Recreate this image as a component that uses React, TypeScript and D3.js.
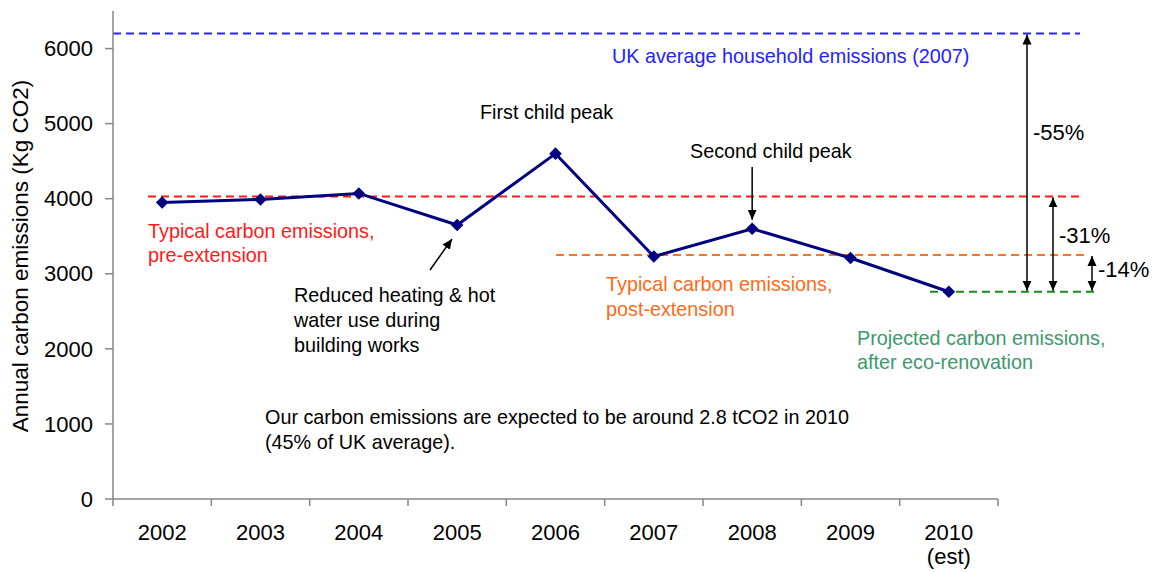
import React from 'react';
import * as d3 from 'd3';

// Chart data
const years = ['2002', '2003', '2004', '2005', '2006', '2007', '2008', '2009', '2010'];
const emissions = [3950, 3990, 4070, 3650, 4600, 3230, 3600, 3210, 2760];
const yTicks = [0, 1000, 2000, 3000, 4000, 5000, 6000];

// Reference levels (Kg CO2)
const ukAverage = 6200;
const preExtension = 4030;
const postExtension = 3250;
const ecoRenovation = 2760;

const W = 1154;
const H = 572;
const FONT = '"Liberation Sans", Arial, sans-serif';

const App = () => {
  const x = d3.scaleBand<string>().domain(years).range([113, 998]).padding(0);
  const y = d3.scaleLinear().domain([0, 6500]).range([499, 11]);
  const cx = (yr: string) => (x(yr) as number) + x.bandwidth() / 2;

  const line = d3
    .line<number>()
    .x((_, i) => cx(years[i]))
    .y((d) => y(d));

  const axisColor = '#868686';
  const diamond = 'M0,-6.3L6.3,0L0,6.3L-6.3,0Z';

  // vertical arrows for percent reductions
  const pctArrows = [
    { from: ukAverage, x: 1027, label: '-55%', lx: 1033, ly: 140 },
    { from: preExtension, x: 1053, label: '-31%', lx: 1059, ly: 243 },
    { from: postExtension, x: 1092, label: '-14%', lx: 1098, ly: 277 },
  ];

  const annot = { fontFamily: FONT, fontSize: 19.8 };

  return (
    <svg
      width={W}
      height={H}
      style={{ position: 'absolute', left: 0, top: 0, background: '#fff' }}
    >
      <defs>
        <marker id="ah" viewBox="0 0 10 10" refX="10" refY="5" markerWidth="10" markerHeight="10"
          markerUnits="userSpaceOnUse" orient="auto-start-reverse">
          <path d="M0,0.5L10,5L0,9.5Z" fill="#000" />
        </marker>
      </defs>

      {/* reference dashed levels */}
      <line x1={113} x2={1080} y1={y(ukAverage)} y2={y(ukAverage)} stroke="#2323ff" strokeWidth={2} strokeDasharray="8,5" />
      <line x1={148} x2={1080} y1={y(preExtension)} y2={y(preExtension)} stroke="#ff1a1a" strokeWidth={2} strokeDasharray="8,5" />
      <line x1={556} x2={1085} y1={y(postExtension)} y2={y(postExtension)} stroke="#ff7322" strokeWidth={2} strokeDasharray="8,5" />
      <line x1={930} x2={1095} y1={y(ecoRenovation)} y2={y(ecoRenovation)} stroke="#1a8c1a" strokeWidth={2} strokeDasharray="8,5" />

      {/* y axis */}
      <line x1={113} x2={113} y1={y(6500)} y2={y(0)} stroke={axisColor} strokeWidth={1.5} />
      {yTicks.map((t) => (
        <g key={t} transform={`translate(0,${y(t)})`}>
          <line x1={105} x2={113} stroke={axisColor} strokeWidth={1.5} />
          <text x={93} dy="0.35em" textAnchor="end" fontFamily={FONT} fontSize={22} fill="#000">
            {t}
          </text>
        </g>
      ))}
      <text
        transform={`translate(28,256) rotate(-90)`}
        textAnchor="middle"
        fontFamily={FONT}
        fontSize={22.5}
        fill="#000"
      >
        Annual carbon emissions (Kg CO2)
      </text>

      {/* x axis */}
      <line x1={113} x2={998} y1={y(0)} y2={y(0)} stroke={axisColor} strokeWidth={1.5} />
      {[...years.map((yr) => x(yr) as number), 998].map((px, i) => (
        <line key={i} x1={px} x2={px} y1={y(0)} y2={y(0) + 7} stroke={axisColor} strokeWidth={1.5} />
      ))}
      {years.map((yr) => (
        <text key={yr} x={cx(yr)} y={540} textAnchor="middle" fontFamily={FONT} fontSize={22} fill="#000">
          {yr}
        </text>
      ))}
      <text x={cx('2010')} y={564} textAnchor="middle" fontFamily={FONT} fontSize={22} fill="#000">
        (est)
      </text>

      {/* emissions series */}
      <path d={line(emissions) || ''} fill="none" stroke="#000080" strokeWidth={3} />
      {emissions.map((v, i) => (
        <path key={i} d={diamond} transform={`translate(${cx(years[i])},${y(v)})`} fill="#000080" />
      ))}

      {/* percent reduction arrows */}
      {pctArrows.map((a) => (
        <g key={a.label}>
          <line x1={a.x} x2={a.x} y1={y(a.from) + 1} y2={y(ecoRenovation) - 1} stroke="#000" strokeWidth={1.5}
            markerStart="url(#ah)" markerEnd="url(#ah)" />
          <text x={a.lx} y={a.ly} fontFamily={FONT} fontSize={22} fill="#000">
            {a.label}
          </text>
        </g>
      ))}

      {/* annotation arrows */}
      <line x1={430} y1={270} x2={452} y2={y(emissions[3]) + 14} stroke="#000" strokeWidth={1.5} markerEnd="url(#ah)" />
      <line x1={cx('2008')} y1={167} x2={cx('2008')} y2={y(emissions[6]) - 9} stroke="#000" strokeWidth={1.5} markerEnd="url(#ah)" />

      {/* annotations */}
      <text x={612} y={63} {...annot} fill="#2323ff">UK average household emissions (2007)</text>
      <text x={480} y={119} {...annot} fill="#000">First child peak</text>
      <text x={690} y={158} {...annot} fill="#000">Second child peak</text>
      <text {...annot} fill="#ff1a1a">
        <tspan x={148} y={238}>Typical carbon emissions,</tspan>
        <tspan x={148} y={262}>pre-extension</tspan>
      </text>
      <text {...annot} fill="#000">
        <tspan x={294} y={302}>Reduced heating &amp; hot</tspan>
        <tspan x={294} y={327}>water use during</tspan>
        <tspan x={294} y={352}>building works</tspan>
      </text>
      <text {...annot} fill="#ff6a1a">
        <tspan x={606} y={291}>Typical carbon emissions,</tspan>
        <tspan x={606} y={316}>post-extension</tspan>
      </text>
      <text {...annot} fill="#3a9a6a">
        <tspan x={857} y={345}>Projected carbon emissions,</tspan>
        <tspan x={857} y={369}>after eco-renovation</tspan>
      </text>
      <text {...annot} fill="#000">
        <tspan x={265} y={424}>Our carbon emissions are expected to be around 2.8 tCO2 in 2010</tspan>
        <tspan x={265} y={449}>(45% of UK average).</tspan>
      </text>
    </svg>
  );
};

export default App;
